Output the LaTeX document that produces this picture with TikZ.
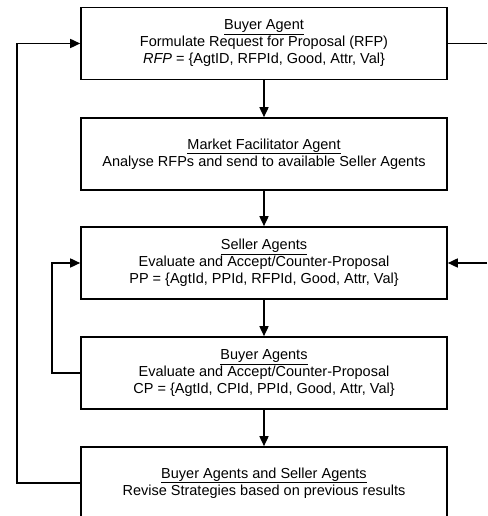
\documentclass[tikz,border=0pt]{standalone}
\usepackage{fontspec}
\setmainfont{Liberation Sans}
\usetikzlibrary{arrows.meta}
\begin{document}
\begin{tikzpicture}[x=1pt,y=1pt,
    stage/.style={draw,line width=1.6pt,minimum width=366pt,minimum height=72pt,
      inner sep=0pt,align=center,font=\fontsize{14.5}{17}\selectfont},
    flow/.style={line width=1.6pt,-{Triangle[length=10pt,width=9pt]}},
    link/.style={line width=1.6pt}]
  \useasboundingbox (0,0) rectangle (487,516);

  \node[stage] (buyer) at (264,472.5) {\underline{Buyer Agent}\\
    Formulate Request for Proposal (RFP)\\
    \textit{RFP} = \{AgtID, RFPId, Good, Attr, Val\}};
  \node[stage] (market) at (264,362) {\underline{Market Facilitator Agent}\\
    Analyse RFPs and send to available Seller Agents};
  \node[stage] (seller) at (264,253) {\underline{Seller Agents}\\
    Evaluate and Accept/Counter-Proposal\\
    PP = \{AgtId, PPId, RFPId, Good, Attr, Val\}};
  \node[stage] (counter) at (264,143) {\underline{Buyer Agents}\\
    Evaluate and Accept/Counter-Proposal\\
    CP = \{AgtId, CPId, PPId, Good, Attr, Val\}};
  \node[stage] (revise) at (264,33) {\underline{Buyer Agents and Seller Agents}\\
    Revise Strategies based on previous results};

  % loose ends at the right border
  \coordinate (outR) at (487,472.5);
  \coordinate (inR) at (487,253);
  % corners of the two feedback loops
  \coordinate (loopin) at (52,253);
  \coordinate (loopout) at (17,472.5);

  \draw[flow] (buyer) -- (market);
  \draw[flow] (market) -- (seller);
  \draw[flow] (seller) -- (counter);
  \draw[flow] (counter) -- (revise);

  \draw[link] (buyer.east) -- (outR);
  \draw[flow] (inR) -- (seller.east);

  \draw[flow] (counter.west) -| (loopin) -- (seller.west);
  \draw[flow] (revise.west) -| (loopout) -- (buyer.west);
\end{tikzpicture}
\end{document}
